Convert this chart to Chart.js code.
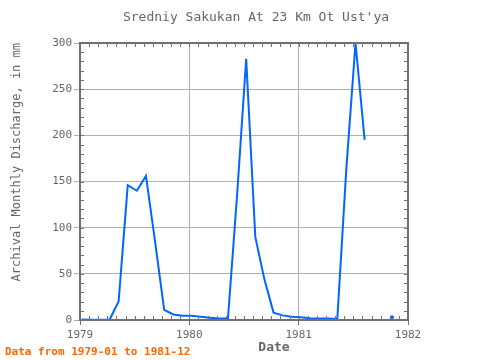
<!DOCTYPE html>
<html>
<head>
<meta charset="utf-8">
<script src="https://cdn.jsdelivr.net/npm/chart.js"></script>
<style>
  html, body { margin: 0; padding: 0; background: #ffffff; }
  #chart { display: block; }
</style>
</head>
<body>
<canvas id="chart" width="480" height="360"></canvas>
<script>
/* global Chart */

// monthly values (null = no data)
const months = [
    "1979-01", "1979-02", "1979-03", "1979-04", "1979-05", "1979-06",
    "1979-07", "1979-08", "1979-09", "1979-10", "1979-11", "1979-12",
    "1980-01", "1980-02", "1980-03", "1980-04", "1980-05", "1980-06",
    "1980-07", "1980-08", "1980-09", "1980-10", "1980-11", "1980-12",
    "1981-01", "1981-02", "1981-03", "1981-04", "1981-05", "1981-06",
    "1981-07", "1981-08", "1981-09", "1981-10", "1981-11", "1981-12"
];
const discharge = [
    0.5, 0.2, 0.2, 0.2, 20, 146,
    140, 156, 85, 11, 6, 4.5,
    4.5, 3.5, 2.5, 1.5, 1.5, 135,
    283, 90, 44, 8, 5, 3.5,
    3, 2, 1.5, 1.5, 1, 165,
    300, 195, null, null, 3, null
];
const yearTicks = [1979, 1980, 1981, 1982];

const FONT = "'DejaVu Sans Mono', monospace";
const TEXT = "#666666";
const FRAME = "#707070";

// month string -> fractional year
const toYear = (s) => {
    const [y, m] = s.split("-").map(Number);
    return y + (m - 1) / 12 + 0.02;
};

const points = months.map((m, i) => ({ x: toYear(m), y: discharge[i] }));

// a point with no neighbours gets a visible dot, others stay plain line
const isolated = (i) =>
    discharge[i] !== null &&
    (discharge[i - 1] == null) &&
    (discharge[i + 1] == null);

// frame, inner minor ticks and extra text
const decor = {
    id: "decor",
    afterDraw(chart) {
        const { ctx, chartArea: a, scales } = chart;
        ctx.save();
        ctx.strokeStyle = FRAME;
        ctx.lineWidth = 1;
        ctx.beginPath();
        for (let y = 1979; y <= 1982; y += 1 / 12) {
            const px = Math.round(scales.x.getPixelForValue(y)) + 0.5;
            ctx.moveTo(px, a.top);
            ctx.lineTo(px, a.top + 4);
            ctx.moveTo(px, a.bottom);
            ctx.lineTo(px, a.bottom - 4);
        }
        for (let v = 0; v <= 300; v += 10) {
            const py = Math.round(scales.y.getPixelForValue(v)) + 0.5;
            ctx.moveTo(a.left, py);
            ctx.lineTo(a.left + 4, py);
            ctx.moveTo(a.right, py);
            ctx.lineTo(a.right - 4, py);
        }
        ctx.stroke();

        ctx.lineWidth = 2;
        ctx.strokeRect(a.left, a.top, a.right - a.left, a.bottom - a.top);

        ctx.fillStyle = TEXT;
        ctx.textAlign = "center";
        ctx.textBaseline = "middle";
        ctx.font = "13px " + FONT;
        ctx.fillText("Sredniy Sakukan At 23 Km Ot Ust'ya", 256, 18);

        ctx.font = "bold 13px " + FONT;
        ctx.fillText("Date", 274, 348);

        ctx.fillStyle = "#ff6600";
        ctx.font = "bold 11px " + FONT;
        ctx.textAlign = "left";
        ctx.fillText("Data from 1979-01 to 1981-12", 5, 352);
        ctx.restore();
    }
};

new Chart(document.getElementById("chart").getContext("2d"), {
    type: "line",
    data: {
        datasets: [{
            data: points,
            borderColor: "#0066ff",
            backgroundColor: "#0066ff",
            borderWidth: 2,
            pointRadius: (c) => (isolated(c.dataIndex) ? 2 : 0),
            pointHoverRadius: 0,
            pointBorderWidth: 0,
            spanGaps: false,
            tension: 0
        }]
    },
    options: {
        responsive: false,
        animation: false,
        devicePixelRatio: 1,
        layout: {
            padding: { left: 0, right: 72, top: 43, bottom: 0 }
        },
        scales: {
            x: {
                type: "linear",
                min: 1979,
                max: 1982,
                afterBuildTicks: (scale) => {
                    scale.ticks = yearTicks.map((v) => ({ value: v }));
                },
                afterFit: (scale) => { scale.height = 40; },
                ticks: {
                    color: TEXT,
                    font: { family: FONT, size: 11 },
                    padding: 4,
                    maxRotation: 0,
                    callback: (v) => String(v)
                },
                grid: {
                    color: "#b0b0b0",
                    lineWidth: 1,
                    tickLength: 5,
                    tickColor: FRAME
                },
                border: { color: FRAME, width: 2 }
            },
            y: {
                min: 0,
                max: 300,
                afterFit: (scale) => { scale.width = 80; },
                ticks: {
                    stepSize: 50,
                    color: TEXT,
                    font: { family: FONT, size: 11 },
                    padding: 2
                },
                grid: {
                    color: "#b0b0b0",
                    lineWidth: 1,
                    tickLength: 6
                },
                border: { color: FRAME, width: 2 },
                title: {
                    display: true,
                    text: "Archival Monthly Discharge, in mm",
                    color: TEXT,
                    align: "end",
                    font: { family: FONT, size: 12 },
                    padding: { top: 10, bottom: 0 }
                }
            }
        },
        plugins: {
            legend: { display: false },
            tooltip: { enabled: false },
            title: { display: false }
        }
    },
    plugins: [decor]
});
</script>
</body>
</html>
